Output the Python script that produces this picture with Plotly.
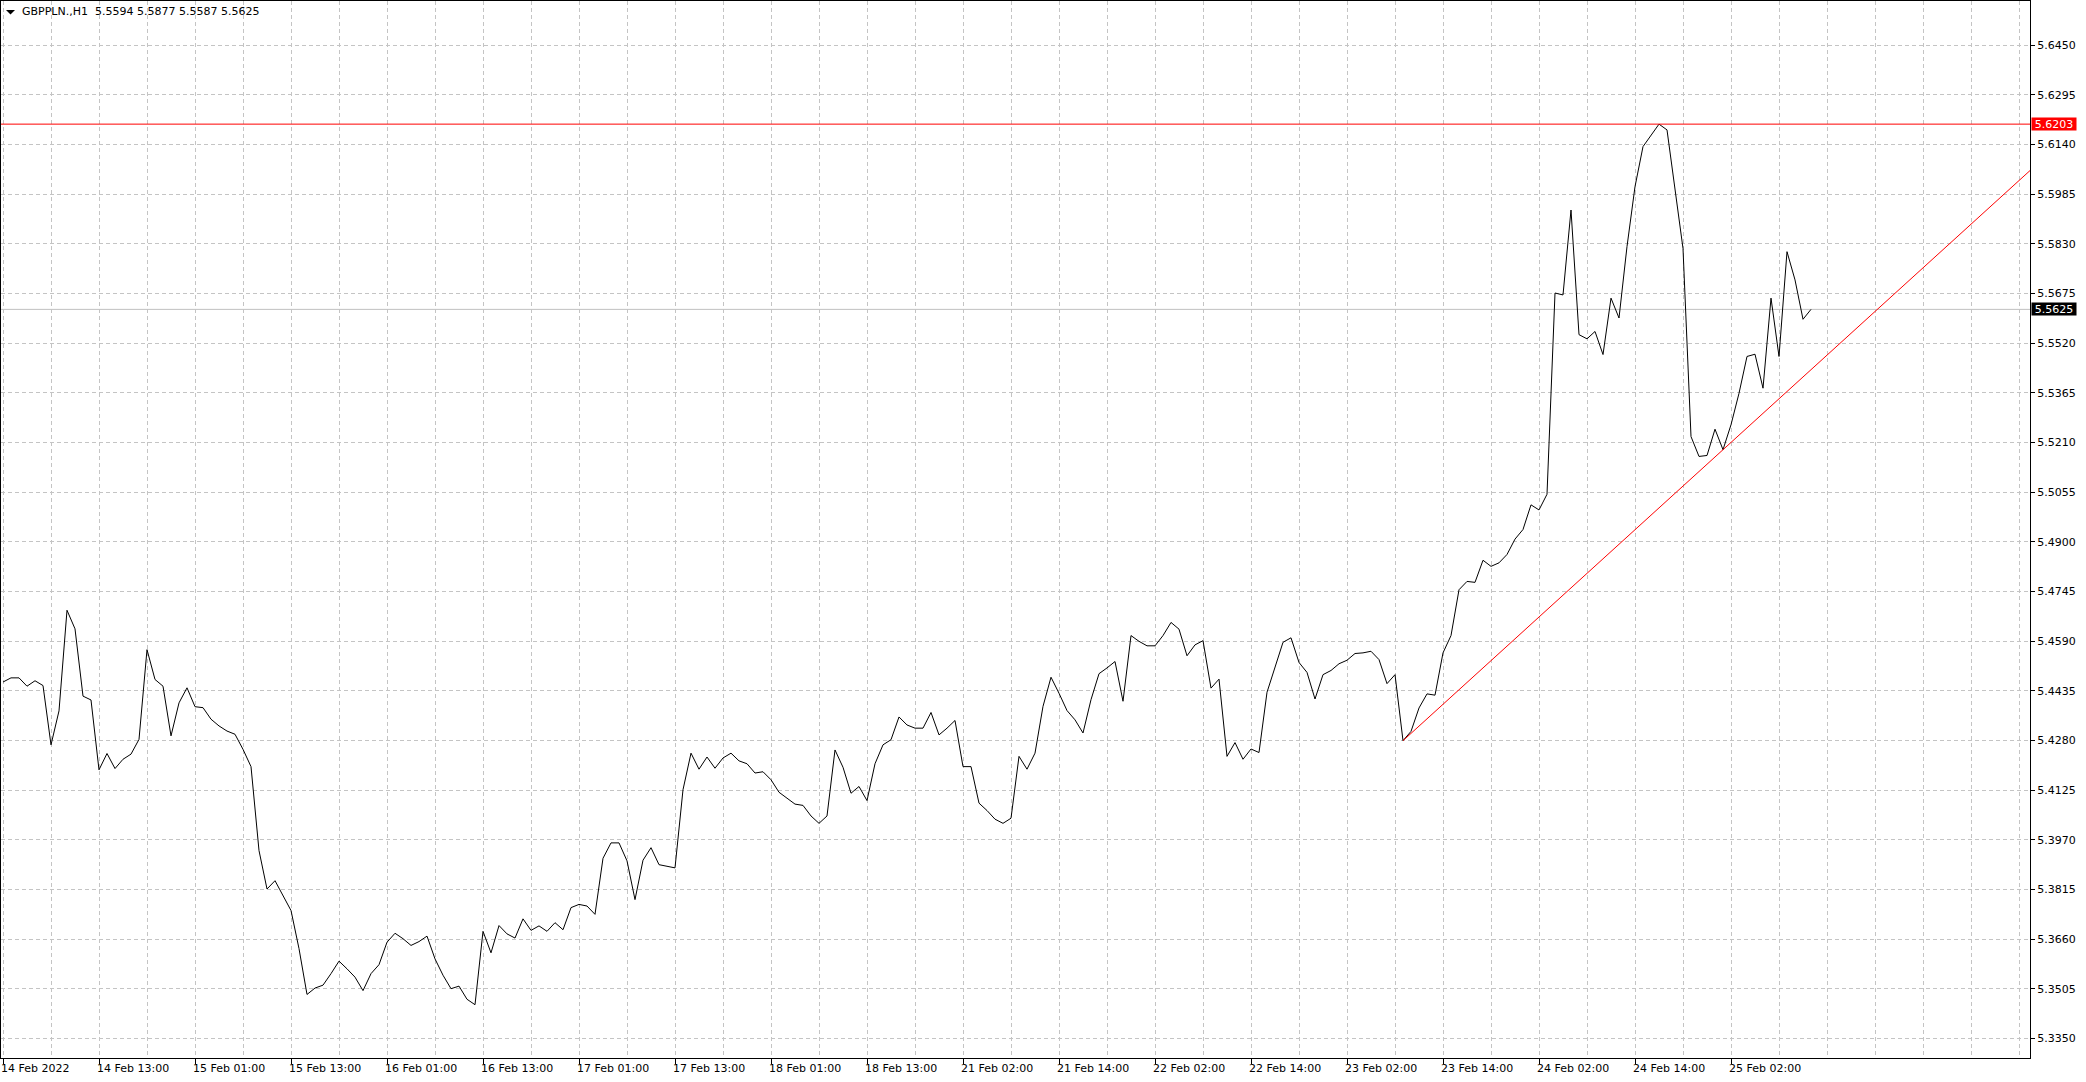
import plotly.graph_objects as go

# ---------------- data ----------------
symbol = "GBPPLN.,H1"
header_ohlc = ["5.5594", "5.5877", "5.5587", "5.5625"]

closes = [
    5.4462, 5.4475, 5.4475, 5.4449, 5.4466, 5.4451, 5.4266, 5.4372, 5.4686, 5.4628,
    5.4418, 5.4406, 5.4188, 5.4239, 5.4192, 5.4221, 5.4237, 5.4283, 5.4563, 5.4470,
    5.4449, 5.4294, 5.4397, 5.4444, 5.4385, 5.4382, 5.4346, 5.4325, 5.4309, 5.4299,
    5.4252, 5.4198, 5.3936, 5.3816, 5.3842, 5.3796, 5.3749, 5.3630, 5.3487, 5.3507,
    5.3516, 5.3552, 5.3591, 5.3567, 5.3541, 5.3499, 5.3552, 5.3580, 5.3650, 5.3678,
    5.3661, 5.3640, 5.3652, 5.3669, 5.3598, 5.3547, 5.3505, 5.3513, 5.3472, 5.3455,
    5.3684, 5.3617, 5.3702, 5.3676, 5.3663, 5.3723, 5.3687, 5.3701, 5.3684, 5.3711,
    5.3689, 5.3758, 5.3768, 5.3763, 5.3737, 5.3912, 5.3960, 5.3960, 5.3904, 5.3783,
    5.3906, 5.3945, 5.3892, 5.3887, 5.3882, 5.4126, 5.4240, 5.4190, 5.4228, 5.4193,
    5.4225, 5.4240, 5.4216, 5.4207, 5.4178, 5.4182, 5.4157, 5.4118, 5.4100, 5.4081,
    5.4077, 5.4044, 5.4021, 5.4044, 5.4250, 5.4196, 5.4115, 5.4136, 5.4092, 5.4207,
    5.4266, 5.4282, 5.4353, 5.4328, 5.4318, 5.4318, 5.4367, 5.4297, 5.4318, 5.4342,
    5.4198, 5.4198, 5.4084, 5.4061, 5.4034, 5.4021, 5.4037, 5.4230, 5.4190, 5.4240,
    5.4386, 5.4477, 5.4427, 5.4373, 5.4344, 5.4303, 5.4407, 5.4488, 5.4506, 5.4526,
    5.4402, 5.4607, 5.4589, 5.4575, 5.4575, 5.4607, 5.4648, 5.4627, 5.4544, 5.4578,
    5.4591, 5.4443, 5.4471, 5.4230, 5.4273, 5.4221, 5.4253, 5.4242, 5.4430, 5.4509,
    5.4586, 5.4600, 5.4523, 5.4492, 5.4409, 5.4485, 5.4498, 5.4519, 5.4530, 5.4551,
    5.4553, 5.4558, 5.4532, 5.4457, 5.4485, 5.4279, 5.4308, 5.4381, 5.4425, 5.4421,
    5.4553, 5.4607, 5.4750, 5.4776, 5.4773, 5.4842, 5.4823, 5.4834, 5.4860, 5.4908,
    5.4938, 5.5015, 5.4999, 5.5048, 5.5676, 5.5670, 5.5935, 5.5546, 5.5533, 5.5556,
    5.5484, 5.5660, 5.5598, 5.5821, 5.6008, 5.6133, 5.6169, 5.6203, 5.6185, 5.5995,
    5.5815, 5.5228, 5.5166, 5.5169, 5.5251, 5.5187, 5.5265, 5.5363, 5.5478, 5.5485,
    5.5379, 5.5660, 5.5478, 5.5805, 5.5717, 5.5594, 5.5625,
]
bars = list(range(len(closes)))

xtick_bars = [0, 12, 24, 36, 48, 60, 72, 84, 96, 108, 120, 132, 144, 156, 168, 180, 192, 204, 216]
xtick_labels = [
    "14 Feb 2022", "14 Feb 13:00", "15 Feb 01:00", "15 Feb 13:00", "16 Feb 01:00",
    "16 Feb 13:00", "17 Feb 01:00", "17 Feb 13:00", "18 Feb 01:00", "18 Feb 13:00",
    "21 Feb 02:00", "21 Feb 14:00", "22 Feb 02:00", "22 Feb 14:00", "23 Feb 02:00",
    "23 Feb 14:00", "24 Feb 02:00", "24 Feb 14:00", "25 Feb 02:00",
]
ytick_values = [
    5.3350, 5.3505, 5.3660, 5.3815, 5.3970, 5.4125, 5.4280, 5.4435, 5.4590, 5.4745,
    5.4900, 5.5055, 5.5210, 5.5365, 5.5520, 5.5675, 5.5830, 5.5985, 5.6140, 5.6295,
    5.6450,
]
ytick_labels = [f"{v:.4f}" for v in ytick_values]

level_price = 5.6203          # horizontal line
trend_anchor_bars = [175, 215]  # trend line through these two closes (ray to the right)

x_range = [-0.25, 253.375]
y_range = [5.32887, 5.65873]

# ---------------- styles ----------------
GRID = "#c4c4c4"
FONT = "DejaVu Sans"

fig = go.Figure()

# close line
fig.add_trace(go.Scatter(x=bars, y=closes, mode="lines",
                         line=dict(color="black", width=1), hoverinfo="skip"))

# trend ray
b0, b1 = trend_anchor_bars
slope = (closes[b1] - closes[b0]) / (b1 - b0)
x_end = x_range[1]
fig.add_trace(go.Scatter(x=[b0, x_end], y=[closes[b0], closes[b0] + slope * (x_end - b0)],
                         mode="lines", line=dict(color="#ff0000", width=1), hoverinfo="skip"))

# horizontal red level and bid line
fig.add_shape(type="line", xref="paper", x0=0, x1=1, yref="y", y0=level_price, y1=level_price,
              line=dict(color="#ff0000", width=1), layer="above")
fig.add_shape(type="line", xref="paper", x0=0, x1=1, yref="y", y0=closes[-1], y1=closes[-1],
              line=dict(color="#c0c0c0", width=1), layer="below")

# price tags at the right
for val, bg in [(level_price, "#ff0000"), (closes[-1], "#000000")]:
    fig.add_annotation(xref="paper", x=1, xanchor="left", xshift=1, yref="y", y=val,
                       yanchor="middle", text=f"{val:.4f}", showarrow=False,
                       bgcolor=bg, font=dict(family=FONT, size=11, color="white"),
                       width=44, height=12, borderpad=0, align="center")

# header text
fig.add_shape(type="path", xref="paper", yref="paper", xsizemode="pixel", ysizemode="pixel",
              xanchor=0, yanchor=1, path="M5,-9 L14,-9 L9.5,-13.5 Z",
              fillcolor="black", line=dict(color="black", width=0))
fig.add_annotation(xref="paper", yref="paper", x=0, y=1, xanchor="left", yanchor="top",
                   xshift=20, yshift=-3, showarrow=False, borderpad=0,
                   text=symbol + "\u00a0\u00a0" + " ".join(header_ohlc),
                   font=dict(family=FONT, size=11, color="black"))

fig.update_layout(
    width=2086, height=1082,
    margin=dict(l=1, r=56, t=1, b=24, pad=0),
    paper_bgcolor="white", plot_bgcolor="white",
    showlegend=False,
    font=dict(family=FONT, size=11, color="black"),
    xaxis=dict(
        range=x_range, tickmode="array", tickvals=xtick_bars, ticktext=xtick_labels,
        ticks="outside", ticklen=5, tickcolor="black", tickwidth=1,
        ticklabelposition="outside right", ticklabelshift=-3,
        showgrid=False, zeroline=False,
        showline=True, linecolor="black", linewidth=1, mirror=True,
        tickfont=dict(family=FONT, size=11, color="black"),
        minor=dict(tickmode="linear", tick0=0, dtick=6, showgrid=True,
                   gridcolor=GRID, griddash="4px,3px", gridwidth=1, ticks=""),
    ),
    yaxis=dict(
        side="right", range=y_range, tickmode="array", tickvals=ytick_values, ticktext=ytick_labels,
        ticks="outside", ticklen=4, tickcolor="black", tickwidth=1,
        showgrid=True, gridcolor=GRID, griddash="4px,3px", gridwidth=1, zeroline=False,
        showline=True, linecolor="black", linewidth=1, mirror=True,
        tickfont=dict(family=FONT, size=11, color="black"),
    ),
)

fig.write_html("out.html", config={"displayModeBar": False},
               post_script="document.body.style.margin='0px';document.body.style.overflow='hidden';")
